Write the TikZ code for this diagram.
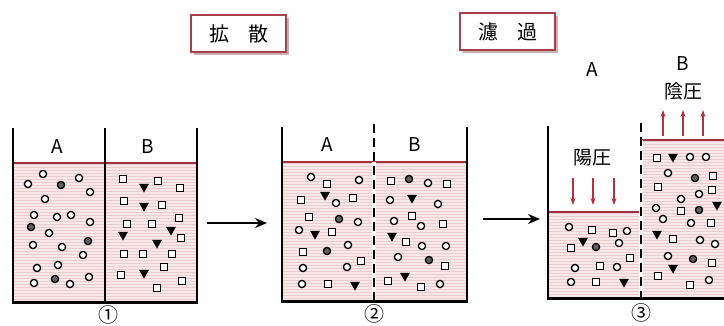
\documentclass[tikz,border=0pt]{standalone}
\usepackage{fontspec}
\newfontfamily\jp{Noto Sans CJK JP}
\usetikzlibrary{arrows.meta}
\definecolor{liqbg}{HTML}{F8E8EA}
\definecolor{liqline}{HTML}{EBCCD1}
\definecolor{surfred}{HTML}{A3303E}
\definecolor{arrred}{HTML}{B3323F}
\definecolor{boxred}{HTML}{A8404C}
\definecolor{shade}{HTML}{C9AEB3}
\definecolor{dotgray}{HTML}{606060}

% striped liquid body: #1,#2 top-left corner, #3,#4 bottom-right corner
\newcommand\liquidbody[4]{%
  \fill[liqbg] (#1,#2) rectangle (#3,#4);
  \begin{scope}
    \clip (#1,#2) rectangle (#3,#4);
    \foreach \k in {0,...,60}
      \draw[liqline,line width=0.8pt] (#1,{#2+1.5+3*\k}) -- (#3,{#2+1.5+3*\k});
  \end{scope}}

\tikzset{
  pics/oc/.style={code={\draw[line width=1.3pt,fill=white] (0,0) circle (3.6);}},
  pics/dc/.style={code={\draw[line width=1.3pt,fill=dotgray] (0,0) circle (3.6);}},
  pics/sq/.style={code={\draw[line width=1.3pt,fill=white] (-3.6,-3.6) rectangle (3.6,3.6);}},
  pics/tr/.style={code={\fill (-4.8,-4) -- (4.8,-4) -- (0,4.6) -- cycle;}},
}

\begin{document}
\begin{tikzpicture}[x=1pt,y=-1pt,
  wall/.style={line width=2pt,black},
  floor/.style={line width=3pt,black},
  surf/.style={line width=1.4pt,surfred},
  lbl/.style={font=\jp\fontsize{19}{19}\selectfont,inner sep=0pt},
  num/.style={font=\jp\fontsize{20}{20}\selectfont,inner sep=0pt},
  titlebox/.style={draw=boxred,line width=1.3pt,fill=white,minimum width=95pt,minimum height=37pt,
    font=\jp\fontsize{20}{20}\selectfont,inner sep=0pt},
  shadowbox/.style={fill=shade,minimum width=95pt,minimum height=37pt,inner sep=0pt},
  flow/.style={line width=1.6pt,-{Stealth[length=12pt,width=10pt]}},
  press/.style={arrred,line width=1.1pt,-{Stealth[length=7pt,width=5pt]}},
  membrane/.style={line width=2.4pt,dash pattern=on 9pt off 5pt},
  gapline/.style={white,line width=3.6pt},
]
\useasboundingbox (0,0) rectangle (724,326);

% ---------- titles ----------
\node[shadowbox] at (241.5,36.5) {};
\node[titlebox] (tdiff) at (238.5,33.5) {拡\hspace{19pt}散};
\node[shadowbox] at (510.5,34.5) {};
\node[titlebox] (tfilt) at (507.5,31.5) {濾\hspace{19pt}過};

% ---------- beaker 1 ----------
\liquidbody{13}{163}{197}{303}
\draw[surf] (13,163) -- (197,163);
\draw[wall] (13,128) -- (13,303);
\draw[wall] (197,128) -- (197,303);
\draw[line width=1.6pt] (105,128) -- (105,303);
\draw[floor] (12,303) -- (198,303);
\node[lbl] (a1) at (57,147) {A};
\node[lbl] (b1) at (148,147) {B};
\node[num] (n1) at (108,315) {①};

\foreach \p/\q in {28/184,43/174,79/178,90/192,45/199,34/215,57/217,71/215,90/222,
                   49/233,33/245,62/247,83/255,37/268,58/265,89/277,34/283,70/284}
  \pic at (\p,\q) {oc};
\foreach \p/\q in {61/185,31/227,88/241,55/279}
  \pic at (\p,\q) {dc};
\foreach \p/\q in {123/179,158/181,180/188,124/201,162/205,179/218,127/224,152/224,
                   181/238,124/254,143/254,172/254,164/267,121/275,182/281,157/288}
  \pic at (\p,\q) {sq};
\foreach \p/\q in {144/188,144/207,171/231,123/236,157/244,144/274}
  \pic at (\p,\q) {tr};

% ---------- arrow 1 -> 2 ----------
\coordinate (f1s) at (207,223);
\coordinate (f1e) at (267,223);
\draw[flow] (f1s) -- (f1e);

% ---------- beaker 2 ----------
\liquidbody{282}{162}{467}{302}
\draw[surf] (282,162) -- (467,162);
\draw[gapline] (374,162) -- (374,302);
\draw[membrane] (374,124) -- (374,302);
\draw[wall] (282,127) -- (282,302);
\draw[wall] (467,127) -- (467,302);
\draw[floor] (281,302) -- (468,302);
\node[lbl] (a2) at (327,145) {A};
\node[lbl] (b2) at (415,145) {B};
\node[num] (n2) at (374,314) {②};

\foreach \p/\q in {311/177,359/180,336/203,358/222,299/230,348/245,347/267,303/268,302/284,
                   428/183,390/200,438/204,394/221,421/226,422/246,446/246,398/257,440/284}
  \pic at (\p,\q) {oc};
\foreach \p/\q in {339/219,327/251,409/179,429/260}
  \pic at (\p,\q) {dc};
\foreach \p/\q in {327/184,301/200,353/198,309/217,332/232,303/252,361/261,328/284,
                   391/181,447/184,412/216,443/224,406/242,445/266,388/281,421/287}
  \pic at (\p,\q) {sq};
\foreach \p/\q in {325/196,315/235,355/286,412/199,392/237,405/277}
  \pic at (\p,\q) {tr};

% ---------- arrow 2 -> 3 ----------
\coordinate (f2s) at (483,219);
\coordinate (f2e) at (540,219);
\draw[flow] (f2s) -- (f2e);

% ---------- beaker 3 ----------
\liquidbody{548}{212}{640}{299}
\liquidbody{642}{140}{724}{299}
\draw[surf] (548,212) -- (640,212);
\draw[surf] (642,140) -- (724,140);
\draw[gapline] (641,140) -- (641,299);
\draw[membrane] (641,123) -- (641,299);
\draw[wall] (548,126) -- (548,299);
\draw[floor] (547,299) -- (724,299);
\node[lbl] (a3) at (592,70) {A};
\node[lbl] (b3) at (683,64) {B};
\node[lbl] (neg) at (683,91) {陰圧};
\node[lbl] (pos) at (592,158) {陽圧};
\node[num] (n3) at (641,313) {③};

\foreach \x in {573,593,614}
  \draw[press] (\x,178) -- (\x,205);
\foreach \x in {663,683,703}
  \draw[press] (\x,136) -- (\x,110);

\foreach \p/\q in {569/227,627/231,619/243,575/268,617/267,571/282,
                   690/157,706/157,668/173,699/194,681/199,656/208,663/219,691/223,
                   700/240,715/244,668/256,709/280}
  \pic at (\p,\q) {oc};
\foreach \p/\q in {596/247,695/178,699/210,693/259}
  \pic at (\p,\q) {dc};
\foreach \p/\q in {592/230,613/233,571/248,630/258,600/266,596/282,
                   657/158,713/176,658/187,712/190,681/211,711/223,673/239,712/263,658/276,690/285}
  \pic at (\p,\q) {sq};
\foreach \p/\q in {583/242,624/283,673/158,717/206,657/235,673/269}
  \pic at (\p,\q) {tr};
\end{tikzpicture}
\end{document}
